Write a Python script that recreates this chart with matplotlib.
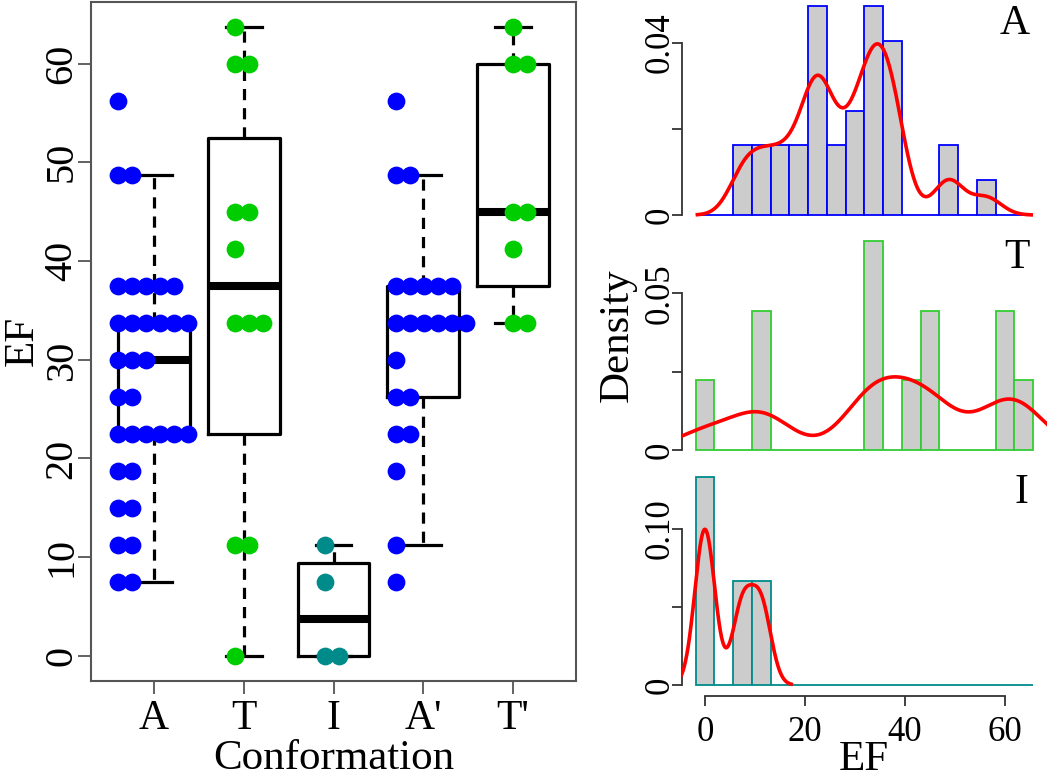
import numpy as np
import matplotlib
matplotlib.use("Agg")
import matplotlib.pyplot as plt

# ---------------- data ----------------
groups = ["A", "T", "I", "A'", "T'"]
ef_A = [56.25, 48.75, 48.75, 37.5, 37.5, 37.5, 37.5, 37.5,
        33.75, 33.75, 33.75, 33.75, 33.75, 33.75, 30.0, 30.0, 30.0,
        26.25, 26.25, 22.5, 22.5, 22.5, 22.5, 22.5, 22.5,
        18.75, 18.75, 15.0, 15.0, 11.25, 11.25, 7.5, 7.5]
ef_T = [63.75, 60.0, 60.0, 45.0, 45.0, 41.25, 33.75, 33.75, 33.75,
        11.25, 11.25, 0.0]
ef_I = [11.25, 7.5, 0.0, 0.0]
ef_A2 = [56.25, 48.75, 48.75, 37.5, 37.5, 37.5, 37.5, 37.5,
         33.75, 33.75, 33.75, 33.75, 33.75, 33.75, 30.0, 26.25, 26.25,
         22.5, 22.5, 18.75, 11.25, 7.5]
ef_T2 = [63.75, 60.0, 60.0, 45.0, 45.0, 41.25, 33.75, 33.75]
group_data = [ef_A, ef_T, ef_I, ef_A2, ef_T2]

hist_names = ["A", "T", "I"]
hist_data = [ef_A, ef_T, ef_I]
kde_bw = [3.0, 6.0, 2.0]
bin_width = 3.75
bin_lo, bin_hi = -1.875, 65.625
hist_yticks = [[0, 0.02, 0.04], [0, 0.025, 0.05], [0, 0.05, 0.10]]
hist_ylabels = [["0", "", "0.04"], ["0", "", "0.05"], ["0", "", "0.10"]]
ef_ticks = [0, 20, 40, 60]
left_yticks = [0, 10, 20, 30, 40, 50, 60]

# ---------------- style ----------------
BLUE, GREEN, TEAL = "#0000FF", "#00CD00", "#008B8B"
group_colors = [BLUE, GREEN, TEAL, BLUE, GREEN]
hist_colors = [BLUE, "#33CC33", TEAL]
dot_start = [-0.40, -0.10, -0.10, -0.305, 0.0]
dot_step = 0.157
SERIF = ["Liberation Serif", "DejaVu Serif"]
plt.rcParams["font.family"] = SERIF

W, H = 1050, 779
fig = plt.figure(figsize=(W / 100, H / 100), dpi=100)


def rect(x0, y0, x1, y1):
    return [x0 / W, 1 - y1 / H, (x1 - x0) / W, (y1 - y0) / H]


def hinges(v):
    s = np.sort(np.asarray(v, float))
    n = len(s)
    med = np.median(s)
    q1 = np.median(s[:(n + 1) // 2])
    q3 = np.median(s[n // 2:])
    iqr = q3 - q1
    lo = s[s >= q1 - 1.5 * iqr].min()
    hi = s[s <= q3 + 1.5 * iqr].max()
    return dict(med=med, q1=q1, q3=q3, whislo=lo, whishi=hi, fliers=[])


# ---------------- left panel ----------------
ax = fig.add_axes(rect(91, 1.5, 576, 681))
positions = np.arange(1, len(groups) + 1)
stats = [hinges(v) for v in group_data]
ax.bxp(stats, positions=positions, widths=0.8, showfliers=False,
       boxprops=dict(color="black", linewidth=2.3),
       whiskerprops=dict(color="black", linewidth=2.3, linestyle=(0, (3.5, 2.5))),
       capprops=dict(color="black", linewidth=2.3),
       medianprops=dict(color="black", linewidth=5.8, solid_capstyle="butt"),
       manage_ticks=False, zorder=2)

for i, (vals, col) in enumerate(zip(group_data, group_colors)):
    seen = {}
    xs, ys = [], []
    for v in vals:
        k = seen.get(v, 0)
        seen[v] = k + 1
        xs.append(positions[i] + dot_start[i] + k * dot_step)
        ys.append(v)
    ax.plot(xs, ys, "o", color=col, ms=12.8, mew=0, zorder=3, clip_on=False)

ax.set_xlim(0.3, 5.7)
ax.set_ylim(-2.55, 66.3)
ax.set_xticks(positions)
ax.set_xticklabels(groups, fontsize=30)
ax.set_yticks(left_yticks)
ax.set_yticklabels([str(t) for t in left_yticks], fontsize=29, rotation=90,
                   va="center")
for sp in ax.spines.values():
    sp.set_color("#555555")
    sp.set_linewidth(1.5)
ax.tick_params(axis="both", direction="out", length=9.5, width=1.3,
               color="#555555")
ax.tick_params(axis="x", pad=4)
ax.tick_params(axis="y", pad=-2)

fig.text(333.5 / W, 1 - 769 / H, "Conformation", ha="center", va="baseline",
         fontsize=31)
fig.text(23 / W, 1 - 341 / H, "EF", ha="center", va="center", rotation=90,
         fontsize=31)

# ---------------- right panels ----------------
panel_px = [(-2, 223.4), (232.7, 458.4), (468.6, 693.3)]
edges = np.arange(bin_lo, bin_hi + bin_width / 2, bin_width)
label_px = [(1030, 34), (1030, 268), (1028, 503)]

for j, (vals, col, bw) in enumerate(zip(hist_data, hist_colors, kde_bw)):
    y0, y1 = panel_px[j]
    hx = fig.add_axes(rect(682, y0, 1046.6, y1))
    dens, _ = np.histogram(vals, bins=edges, density=True)
    hx.bar(edges[:-1], dens, width=bin_width, align="edge", color="#CCCCCC",
           edgecolor=col, linewidth=1.3, zorder=2)
    v = np.asarray(vals, float)
    xs = np.linspace(v.min() - 3 * bw, v.max() + 3 * bw, 512)
    ys = np.exp(-0.5 * ((xs[:, None] - v[None, :]) / bw) ** 2).sum(axis=1) \
        / (len(v) * bw * np.sqrt(2 * np.pi))
    hx.plot(xs, ys, color="#FF0000", linewidth=2.6, zorder=3)
    ymax = dens.max()
    hx.set_xlim(-4.575, 68.325)
    hx.set_ylim(-0.04 * ymax, 1.04 * ymax)
    hx.spines["top"].set_visible(False)
    hx.spines["right"].set_visible(False)
    hx.spines["left"].set_bounds(hist_yticks[j][0], hist_yticks[j][-1])
    hx.spines["left"].set_color("#333333")
    hx.spines["left"].set_linewidth(1.3)
    hx.set_yticks(hist_yticks[j])
    hx.set_yticklabels(hist_ylabels[j], fontsize=25, rotation=90, va="center")
    hx.tick_params(axis="y", direction="out", length=7, width=1.3,
                   color="#333333", pad=-3)
    if j < 2:
        hx.spines["bottom"].set_visible(False)
        hx.set_xticks([])
    else:
        hx.spines["bottom"].set_bounds(ef_ticks[0], ef_ticks[-1])
        hx.spines["bottom"].set_color("#333333")
        hx.spines["bottom"].set_linewidth(1.3)
        hx.spines["bottom"].set_position(("outward", 2))
        hx.set_xticks(ef_ticks)
        hx.set_xticklabels([str(t) for t in ef_ticks], fontsize=25)
        hx.tick_params(axis="x", direction="out", length=7, width=1.3,
                       color="#333333", pad=7)
    hx.patch.set_alpha(0)
    lx, ly = label_px[j]
    fig.text(lx / W, 1 - ly / H, hist_names[j], ha="right", va="baseline",
             fontsize=30)

fig.text(618 / W, 1 - 335 / H, "Density", ha="center", va="center",
         rotation=90, fontsize=31)
fig.text(864 / W, 1 - 770 / H, "EF", ha="center", va="baseline", fontsize=31)

fig.savefig("out.png", dpi=100)
